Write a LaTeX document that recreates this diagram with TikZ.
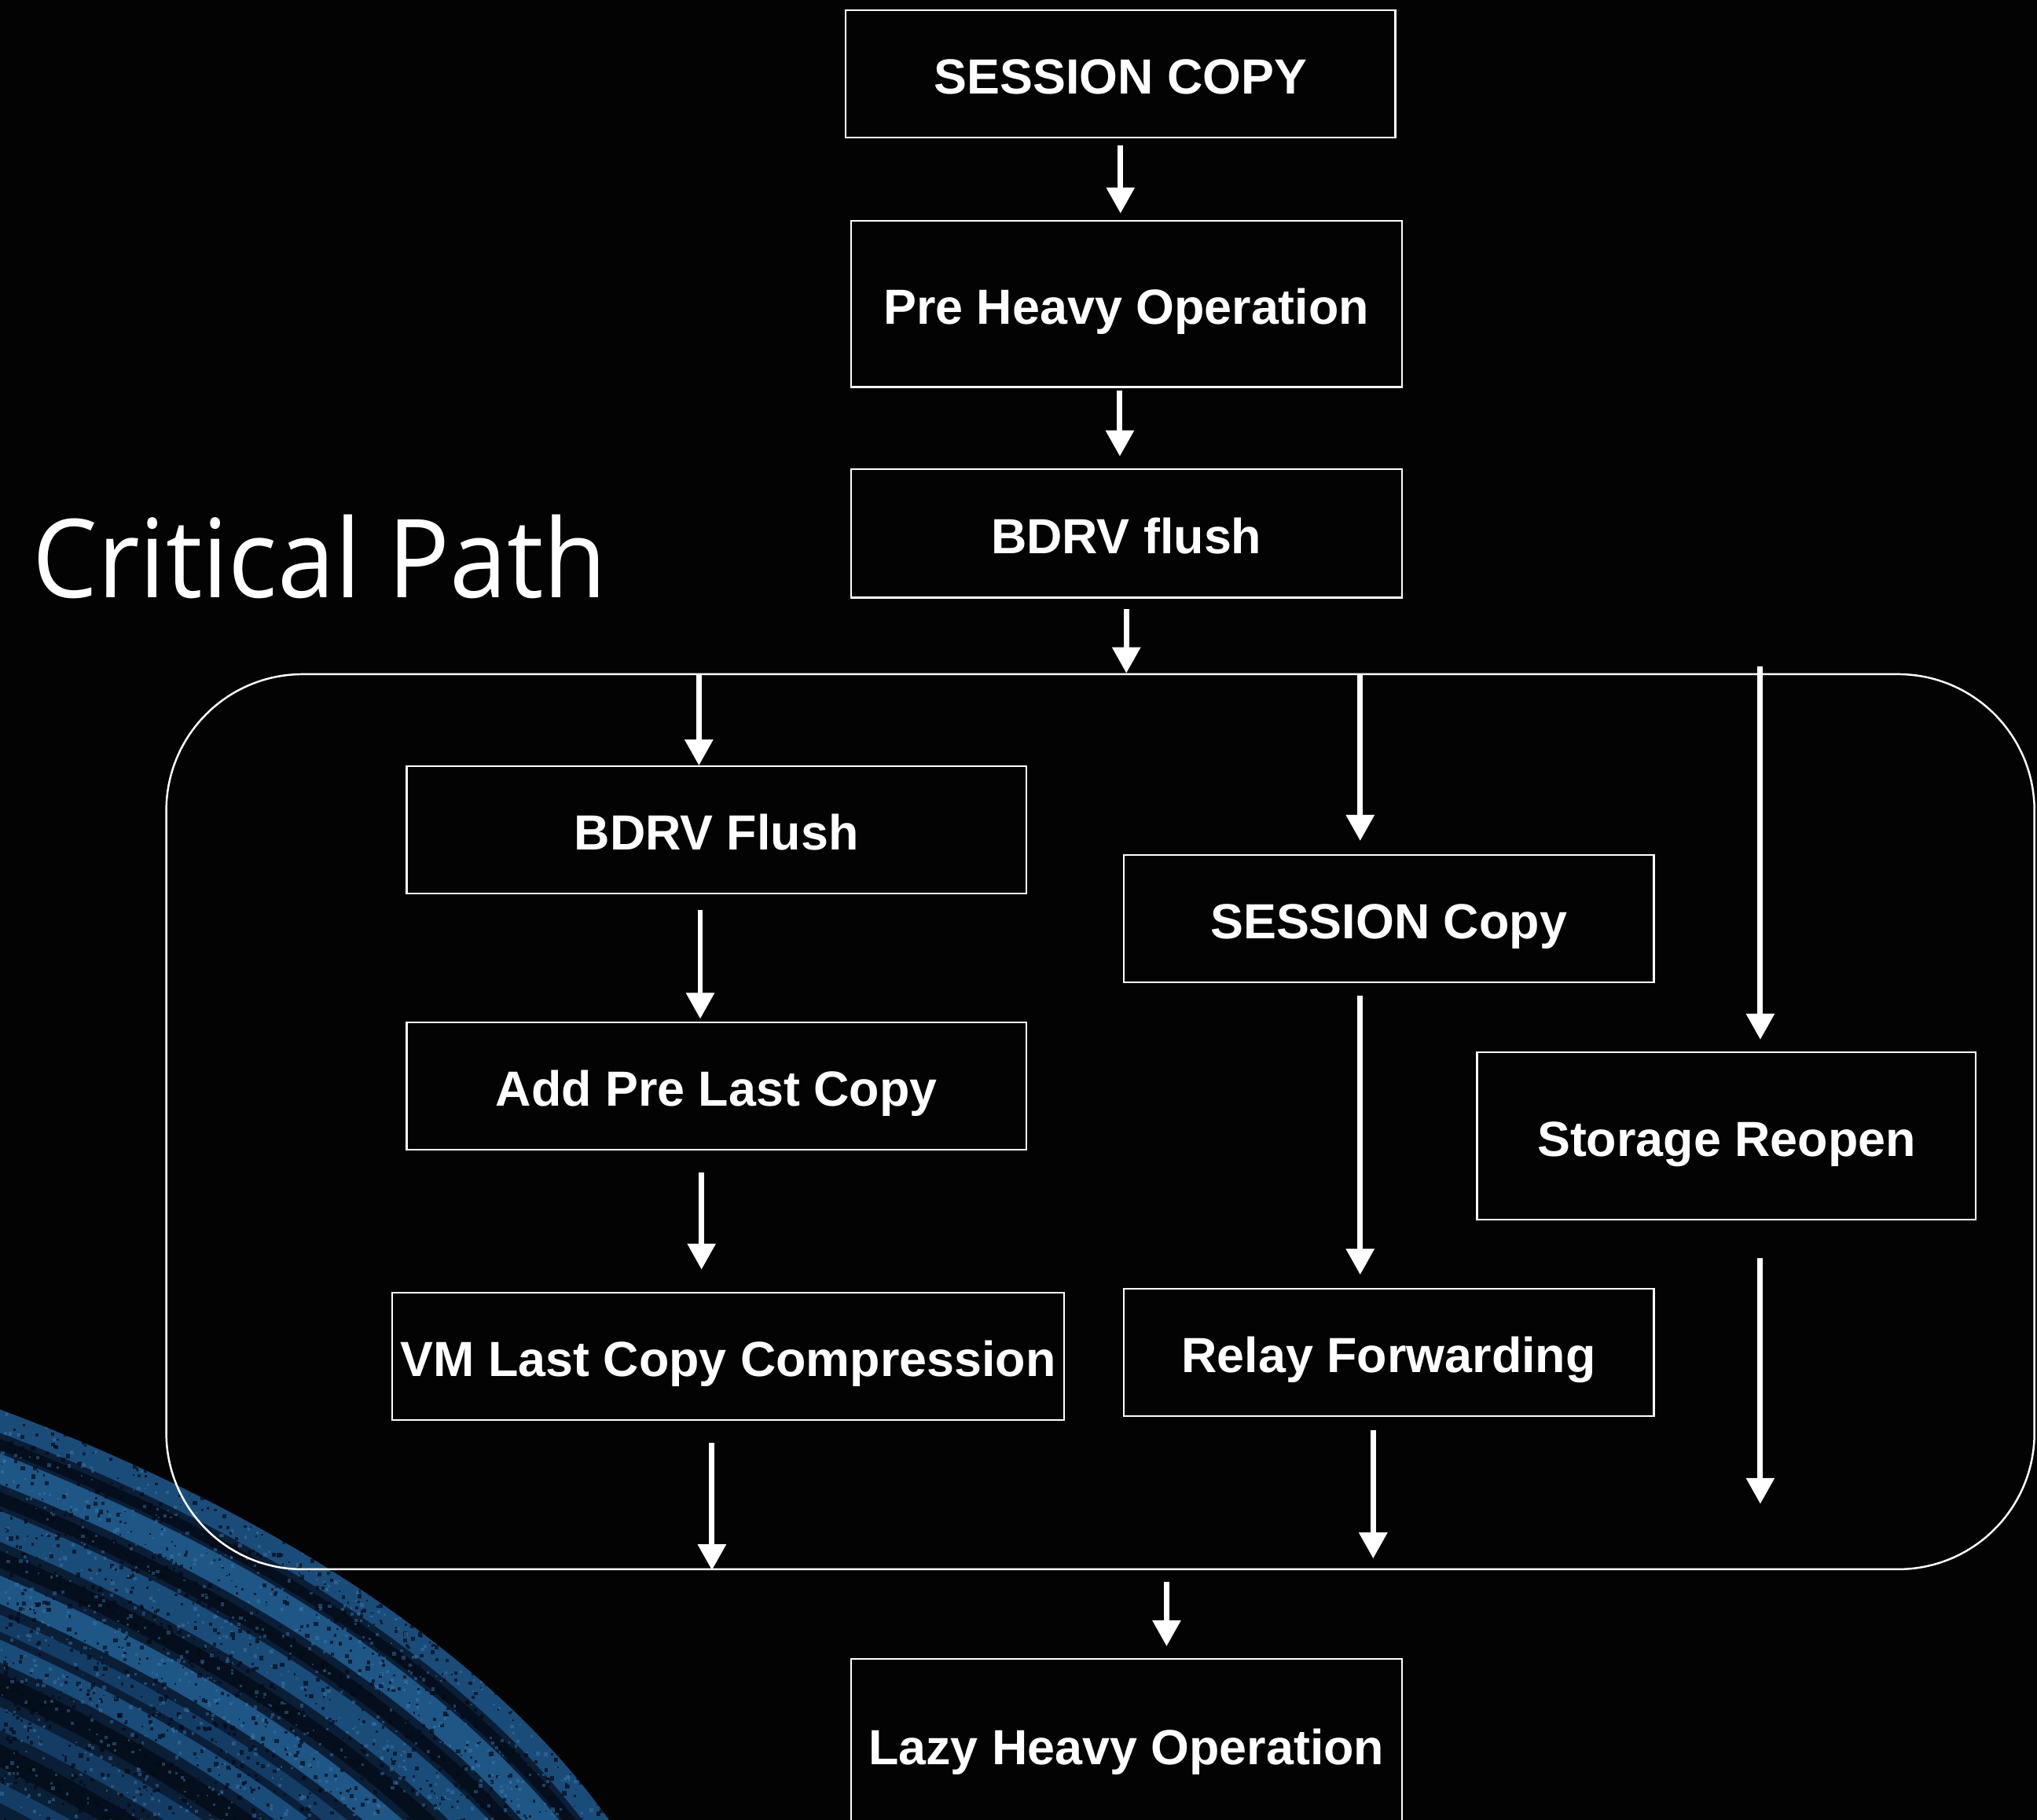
\documentclass[tikz,border=0pt]{standalone}
\usepackage{fontspec}
\setmainfont{Liberation Sans}
\newfontfamily\titlefont{Open Sans}
\usetikzlibrary{arrows.meta,calc}

\definecolor{bgblack}{HTML}{030303}
\definecolor{navy}{HTML}{0A1E36}
\definecolor{blueA}{HTML}{1E5686}
\definecolor{blueB}{HTML}{1A4C7A}
\definecolor{blueC}{HTML}{143D66}
\definecolor{blueD}{HTML}{050E1C}
\definecolor{grainlight}{HTML}{3C7EB0}
\definecolor{graindark}{HTML}{030A16}

\begin{document}
\begin{tikzpicture}[x=1pt,y=-1pt,
  stepbox/.style={draw=white, line width=1.4pt, rectangle, inner sep=0pt,
    text=white, font=\fontsize{38}{44}\selectfont\bfseries,
    text height=31pt, text depth=0pt, align=center},
  flow/.style={draw=white, line width=4.2pt, -{Triangle[width=21pt,length=20pt]}},
  groupframe/.style={draw=white, line width=1.5pt, rounded corners=105pt, inner sep=0pt},
  bandedge/.style={line cap=butt}
]
\useasboundingbox (0,0) rectangle (1568,1401);
\fill[bgblack] (0,0) rectangle (1568,1401);

% streaked, grainy blue band in the lower left corner
\begin{scope}
  \clip (0,1085) .. controls (200,1160) and (380,1270) .. (475,1410) -- (0,1410) -- cycle;
  \fill[navy] (0,1000) rectangle (600,1420);
  \foreach \d/\c/\w in {8/blueB/18, 26/blueD/8, 44/blueA/22, 66/blueD/10,
                        86/blueB/22, 110/blueD/12, 132/blueA/20, 156/blueC/12,
                        176/blueB/16, 200/blueD/16, 224/blueC/16, 250/blueD/16,
                        276/blueC/14, 304/blueD/18, 334/blueC/12, 362/blueD/20}{
    \draw[bandedge, \c, line width=\w pt, shift={(-0.55*\d,0.83*\d)}]
      (-200,1010) -- (0,1085) .. controls (200,1160) and (380,1270) .. (475,1410);
  }
  \pgfmathsetseed{11}
  \foreach \i in {1,...,2200}{
    \pgfmathsetmacro{\gx}{rnd*490}
    \pgfmathsetmacro{\gy}{1080+rnd*330}
    \pgfmathsetmacro{\gs}{1+rnd*2.5}
    \fill[graindark, opacity=0.7] (\gx,\gy) rectangle ++(\gs,\gs);
  }
  \foreach \i in {1,...,1600}{
    \pgfmathsetmacro{\gx}{rnd*490}
    \pgfmathsetmacro{\gy}{1080+rnd*330}
    \pgfmathsetmacro{\gs}{1+rnd*2}
    \fill[grainlight, opacity=0.45] (\gx,\gy) rectangle ++(\gs,\gs);
  }
\end{scope}

% title
\node[anchor=base west, inner sep=0pt, text=white,
      font=\titlefont\fontsize{84}{96}\selectfont] (title) at (25,460)
      {\scalebox{0.945}[1]{Critical Path}};

% sequential steps
\node[stepbox, minimum width=423pt, minimum height=98pt]  (sc)    at (862.5,57)  {SESSION COPY};
\node[stepbox, minimum width=424pt, minimum height=128pt] (pho)   at (867,234)   {Pre Heavy Operation};
\node[stepbox, minimum width=424pt, minimum height=99pt]  (bf)    at (867,410.5) {BDRV flush};

% parallel group
\node[groupframe, minimum width=1438pt, minimum height=689pt] (grp) at (847,863.5) {};

\node[stepbox, minimum width=477pt, minimum height=98pt]  (bF)    at (551.5,639)  {BDRV Flush};
\node[stepbox, minimum width=477pt, minimum height=98pt]  (apl)   at (551.5,836)  {Add Pre Last Copy};
\node[stepbox, minimum width=517pt, minimum height=98pt]  (vm)    at (560.5,1044) {VM Last Copy Compression};
\node[stepbox, minimum width=408pt, minimum height=98pt]  (ses)   at (1069,707)   {SESSION Copy};
\node[stepbox, minimum width=408pt, minimum height=98pt]  (relay) at (1069,1041)  {Relay Forwarding};
\node[stepbox, minimum width=384pt, minimum height=129pt] (sr)    at (1329,874.5) {Storage Reopen};

% final step
\node[stepbox, minimum width=424pt, minimum height=132pt] (lazy)  at (867,1343)   {Lazy Heavy Operation};

% connectors
\draw[flow] ($(sc.south)+(0,5)$)        -- ($(pho.north)+(-4.5,-5)$);
\draw[flow] ($(pho.south)+(-5,2)$)      -- ($(bf.north)+(-5,-9)$);
\draw[flow] ($(bf.south)+(0,8)$)        -- ($(grp.north)+(20,0)$);

\draw[flow] ($(grp.north)+(-309,1)$)    -- ($(bF.north)+(-13.5,0)$);
\draw[flow] ($(bF.south)+(-12.5,12)$)   -- ($(apl.north)+(-12.5,-2)$);
\draw[flow] ($(apl.south)+(-11.5,17)$)  -- ($(vm.north)+(-20.5,-17)$);
\draw[flow] ($(vm.south)+(-12.5,17)$)   -- ($(grp.south)+(-299,0)$);

\draw[flow] ($(grp.north)+(200,0)$)     -- ($(ses.north)+(-22,-10)$);
\draw[flow] ($(ses.south)+(-22,10)$)    -- ($(relay.north)+(-22,-10)$);
\draw[flow] ($(relay.south)+(-12,10)$)  -- ($(grp.south)+(210,-9)$);

\draw[flow] ($(grp.north)+(508,-5)$)    -- ($(sr.north)+(26,-9)$);
\draw[flow] ($(sr.south)+(26,29)$)      -- ($(grp.south)+(508,-51)$);

\draw[flow] ($(grp.south)+(51,9)$)      -- ($(lazy.north)+(31,-9)$);
\end{tikzpicture}
\end{document}
